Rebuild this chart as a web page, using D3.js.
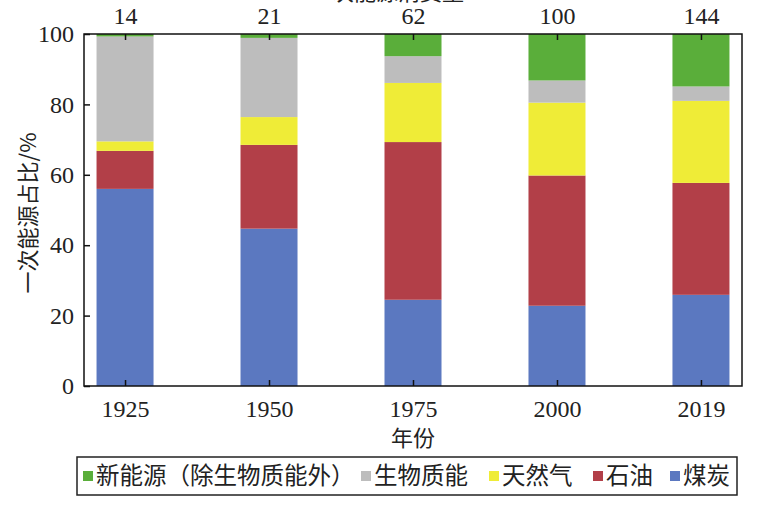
<!DOCTYPE html>
<html><head><meta charset="utf-8">
<script src="https://cdn.jsdelivr.net/npm/d3@7"></script>
<style>body{margin:0;background:#fff;} svg{display:block;}</style>
</head><body>
<svg id="c" width="774" height="505"></svg>
<script>
const years = ["1925","1950","1975","2000","2019"];
const totals = ["14","21","62","100","144"];
const seriesNames = ["煤炭","石油","天然气","生物质能","新能源（除生物质能外）"];
const coal    = [56.0, 44.7, 24.5, 22.8, 25.9];
const oil     = [10.8, 23.8, 44.8, 37.0, 31.8];
const gas     = [2.7,  7.9, 16.8, 20.7, 23.3];
const biomass = [29.8, 22.5,  7.6,  6.3,  4.1];
const newEn   = [0.7,  1.1,  6.3, 13.2, 14.9];
const yTicks = [0,20,40,60,80,100];
const legendOrder = ["新能源（除生物质能外）","生物质能","天然气","石油","煤炭"];

const colors = {"煤炭":"#5b78c0","石油":"#b23f48","天然气":"#efec37","生物质能":"#bdbdbd","新能源（除生物质能外）":"#5aae3a"};
const serif = "'Liberation Serif','Times New Roman',serif";
const cjk = "'Noto Sans CJK SC','Noto Sans',sans-serif";

const svg = d3.select("#c");
const L=84, R=742, T=34, B=386;
const x = d3.scalePoint().domain(years).range([L,R]).padding(0.285);
const y = d3.scaleLinear().domain([0,100]).range([B,T]);
const bw = 57;

const rows = years.map((yr,i)=>({year:yr,"煤炭":coal[i],"石油":oil[i],"天然气":gas[i],"生物质能":biomass[i],"新能源（除生物质能外）":newEn[i]}));
const stack = d3.stack().keys(seriesNames)(rows);

svg.append("g").selectAll("g").data(stack).join("g")
  .attr("fill", d=>colors[d.key])
  .selectAll("rect").data(d=>d).join("rect")
  .attr("x", d=>x(d.data.year)-bw/2)
  .attr("width", bw)
  .attr("y", d=>y(Math.min(d[1],100)))
  .attr("height", d=>y(d[0])-y(Math.min(d[1],100)));

// axes
const fontSize = 24;
const gl = svg.append("g").attr("transform",`translate(${L},0)`)
  .call(d3.axisLeft(y).tickValues(yTicks).tickSizeInner(-6).tickSizeOuter(0).tickPadding(10));
const gb = svg.append("g").attr("transform",`translate(0,${B})`)
  .call(d3.axisBottom(x).tickSizeInner(-6).tickSizeOuter(0).tickPadding(14));
const gt = svg.append("g").attr("transform",`translate(0,${T})`)
  .call(d3.axisTop(x).tickFormat((d,i)=>totals[i]).tickSizeInner(-6).tickSizeOuter(0).tickPadding(10));
[gl,gb,gt].forEach(g=>{
  g.select(".domain").remove();
  g.selectAll(".tick line").attr("stroke","#111").attr("stroke-width",1.5);
  g.selectAll(".tick text").attr("font-family",serif).attr("font-size",fontSize).attr("fill","#222");
});
// frame
svg.append("rect").attr("x",L).attr("y",T).attr("width",R-L).attr("height",B-T)
  .attr("fill","none").attr("stroke","#111").attr("stroke-width",1.5);

// titles
svg.append("text").attr("x",387).attr("y",0).attr("text-anchor","middle")
  .attr("font-family",cjk).attr("font-size",22).attr("fill","#222").text("一次能源消费量");
svg.append("text").attr("x",413).attr("y",446).attr("text-anchor","middle")
  .attr("font-family",cjk).attr("font-size",22).attr("fill","#222").text("年份");
svg.append("text").attr("transform","translate(36,213) rotate(-90)").attr("text-anchor","middle")
  .attr("font-family",cjk).attr("font-size",22).attr("fill","#222").text("一次能源占比/%");

// legend
const lg = svg.append("g");
lg.append("rect").attr("x",77).attr("y",457).attr("width",660).attr("height",38)
  .attr("fill","#fff").attr("stroke","#222").attr("stroke-width",1.5);
const legendX = {"新能源（除生物质能外）":83,"生物质能":361,"天然气":489,"石油":593,"煤炭":670};
legendOrder.forEach(k=>{
  const lx = legendX[k];
  lg.append("rect").attr("x",lx).attr("y",471).attr("width",10).attr("height",10).attr("fill",colors[k]);
  lg.append("text").attr("x",lx+13).attr("y",484).attr("font-family",cjk).attr("font-size",23.5)
    .attr("fill","#222").text(k);
});
</script>
</body></html>
